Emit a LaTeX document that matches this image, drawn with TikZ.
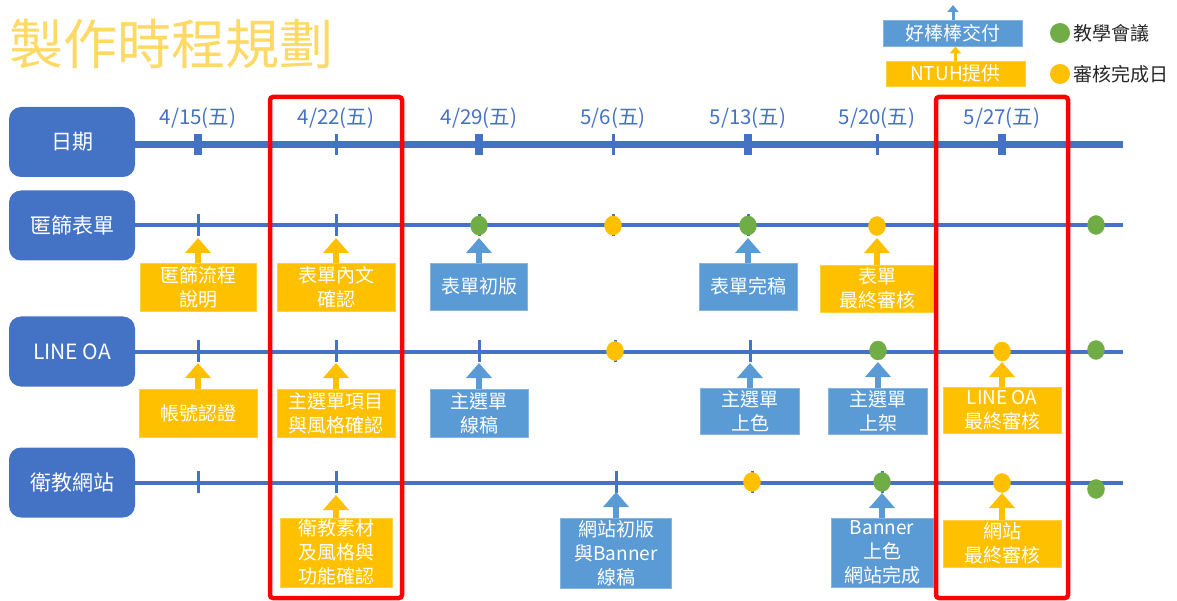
\documentclass[tikz,border=0pt]{standalone}
\usepackage{fontspec}
\setmainfont{Noto Sans CJK TC}
\usetikzlibrary{arrows.meta,positioning,calc}
\definecolor{hdrblue}{HTML}{4472C4}
\definecolor{boxblue}{HTML}{5B9BD5}
\definecolor{boxgold}{HTML}{FFC000}
\definecolor{mtggreen}{HTML}{70AD47}
\definecolor{titlegold}{HTML}{FFD966}

\begin{document}
\begin{tikzpicture}[x=1pt,y=-1pt]
\tikzstyle{every node}=[font=\fontsize{19}{24}\selectfont, inner sep=0pt]
\tikzstyle{header}=[rounded corners=12pt, fill=hdrblue, text=white, minimum width=126pt, minimum height=70pt, font=\fontsize{21}{26}\selectfont]
\tikzstyle{task}=[fill=boxblue, draw=boxblue!75!white, line width=0.8pt, text=white, align=center]
\tikzstyle{review}=[task, fill=boxgold, draw=boxgold!75!white]
\tikzstyle{rowline}=[hdrblue, line width=4pt]
\tikzstyle{tick}=[hdrblue, line width=3pt]
\tikzstyle{uparrow}=[line width=5.5pt, -{Triangle[width=25pt,length=15pt]}]
\tikzstyle{smallup}=[line width=3pt, -{Triangle[width=11pt,length=7pt]}]
\tikzstyle{focus}=[draw=red, line width=4.5pt, rounded corners=3pt, minimum width=132pt, minimum height=501pt]
\tikzstyle{dot}=[circle, minimum size=20pt]

	\useasboundingbox (0,0) rectangle (1177,601);

	\node[anchor=west, text=titlegold, font=\fontsize{54}{60}\selectfont] (title) at (9,44) {製作時程規劃};

	% legend
	\node[task, minimum width=139pt, minimum height=26pt] (lgdeliver) at (953,33) {好棒棒交付};
	\node[review, minimum width=139pt, minimum height=25pt] (lgntuh) at (955.5,73.5) {NTUH提供};
	\coordinate (lgtop) at (953,5);
	\draw[smallup, boxblue] (lgdeliver.north) -- (lgtop);
	\draw[smallup, boxgold] (lgntuh.north) -- (lgntuh.north |- lgdeliver.south);
	\node[dot, fill=mtggreen] (lgmtg) at (1060,33) {};
	\node[dot, fill=boxgold] (lgdone) at (1060,74) {};
	\node[right=3pt of lgmtg, text=black!85] (lgmtgtxt) {教學會議};
	\node[right=3pt of lgdone, text=black!85] (lgdonetxt) {審核完成日};

	% rows
	\node[header] (hdate) at (72,142) {日期};
	\node[header] (hform) at (72,225.5) {匿篩表單};
	\node[header] (hline) at (72,351.5) {LINE OA};
	\node[header] (hsite) at (72,482.5) {衛教網站};

	\coordinate (enddate) at (1123,145);
	\coordinate (endform) at (1123,225.5);
	\coordinate (endline) at (1123,351.5);
	\coordinate (endsite) at (1123,482.5);
	\draw[hdrblue, line width=7pt] ([yshift=-3pt]hdate.east) -- (enddate);
	\draw[rowline] (hform.east) -- (endform);
	\draw[rowline] (hline.east) -- (endline);
	\draw[rowline] (hsite.east) -- (endsite);

	\foreach \dx/\dm/\dd/\dw [count=\i] in {198/4/15/8, 336/4/22/3, 479/4/29/8, 613/5/6/3, 748/5/13/8, 877/5/20/3, 1002/5/27/8} {
		\node[text=hdrblue, font=\fontsize{20.5}{24}\selectfont] (date\i) at (\dx,118.5) {\dm/\dd(五)};
		\fill[hdrblue] (\dx-\dw/2,134.5) rectangle (\dx+\dw/2,155.5);
	}

	\foreach \tx in {198,336,479,613,748}
		\draw[tick] (\tx,214) -- (\tx,236);
	\foreach \tx in {198,336,479,615,750}
		\draw[tick] (\tx,340) -- (\tx,362);
	\foreach \tx in {198,336,616,752,882}
		\draw[tick] (\tx,471) -- (\tx,493);

	\filldraw[mtggreen] (479,225.5) ellipse (8.5pt and 9.5pt);
	\filldraw[boxgold] (613,225.5) ellipse (8.5pt and 9.5pt);
	\filldraw[mtggreen] (748,225.5) ellipse (8.5pt and 9.5pt);
	\filldraw[boxgold] (877,226) ellipse (8.5pt and 9.5pt);
	\filldraw[mtggreen] (1096,225) ellipse (8.5pt and 9.5pt);
	\filldraw[boxgold] (615,351) ellipse (8.5pt and 9.5pt);
	\filldraw[mtggreen] (878,350.5) ellipse (8.5pt and 9.5pt);
	\filldraw[boxgold] (1002,351.5) ellipse (8.5pt and 9.5pt);
	\filldraw[mtggreen] (1096,350) ellipse (8.5pt and 9.5pt);
	\filldraw[boxgold] (752,482) ellipse (8.5pt and 9.5pt);
	\filldraw[mtggreen] (882,482) ellipse (8.5pt and 9.5pt);
	\filldraw[boxgold] (1002,483) ellipse (8.5pt and 9.5pt);
	\filldraw[mtggreen] (1096,489) ellipse (8.5pt and 9.5pt);

	% 匿篩表單
	\node[review, minimum width=116pt, minimum height=48pt] (fa) at (198,287) {匿篩流程\\說明};
	\node[review, minimum width=118pt, minimum height=48pt] (fb) at (336,287) {表單內文\\確認};
	\node[task, minimum width=97pt, minimum height=47pt] (fc) at (479,286.5) {表單初版};
	\node[task, minimum width=98pt, minimum height=47pt] (fd) at (748,286.5) {表單完稿};
	\node[review, minimum width=114pt, minimum height=47pt] (fe) at (877,288.5) {表單\\最終審核};
	\coordinate (fatip) at (198,238);
	\coordinate (fbtip) at (336,238);
	\coordinate (fctip) at (479,238);
	\coordinate (fdtip) at (748,238);
	\coordinate (fetip) at (877,238);
	\draw[uparrow, boxgold] (fa) -- (fatip);
	\draw[uparrow, boxgold] (fb) -- (fbtip);
	\draw[uparrow, boxblue] (fc) -- (fctip);
	\draw[uparrow, boxblue] (fd) -- (fdtip);
	\draw[uparrow, boxgold] (fe) -- (fetip);

	% LINE OA
	\node[review, minimum width=118pt, minimum height=48pt] (la) at (198,413) {帳號認證};
	\node[review, minimum width=118pt, minimum height=48pt] (lb) at (336,413) {主選單項目\\與風格確認};
	\node[task, minimum width=98pt, minimum height=48pt] (lc) at (479,413) {主選單\\線稿};
	\node[task, minimum width=99pt, minimum height=46pt] (ld) at (750,411) {主選單\\上色};
	\node[task, minimum width=99pt, minimum height=46pt] (le) at (878,411) {主選單\\上架};
	\node[review, minimum width=118pt, minimum height=46pt] (lf) at (1002,410) {LINE OA\\最終審核};
	\coordinate (latip) at (198,363);
	\coordinate (lbtip) at (336,363);
	\coordinate (lctip) at (479,363);
	\coordinate (ldtip) at (750,363);
	\coordinate (letip) at (878,362);
	\coordinate (lftip) at (1002,362);
	\draw[uparrow, boxgold] (la) -- (latip);
	\draw[uparrow, boxgold] (lb) -- (lbtip);
	\draw[uparrow, boxblue] (lc) -- (lctip);
	\draw[uparrow, boxblue] (ld) -- (ldtip);
	\draw[uparrow, boxblue] (le) -- (letip);
	\draw[uparrow, boxgold] (lf) -- (lftip);

	% 衛教網站
	\node[review, minimum width=112pt, minimum height=69pt] (sa) at (336,552.5) {衛教素材\\及風格與\\功能確認};
	\node[task, minimum width=111pt, minimum height=70pt] (sb) at (616,553) {網站初版\\與Banner\\線稿};
	\node[task, minimum width=102pt, minimum height=69pt] (sc) at (882,552.5) {Banner\\上色\\網站完成};
	\node[review, minimum width=118pt, minimum height=47pt] (sd) at (1002,543.5) {網站\\最終審核};
	\coordinate (satip) at (336,495);
	\coordinate (sbtip) at (616,492);
	\coordinate (sctip) at (882,493);
	\coordinate (sdtip) at (1002,493);
	\draw[uparrow, boxgold] (sa) -- (satip);
	\draw[uparrow, boxblue] (sb) -- (sbtip);
	\draw[uparrow, boxblue] (sc) -- (sctip);
	\draw[uparrow, boxgold] (sd) -- (sdtip);

	\node[focus] (wkone) at (336,347.5) {};
	\node[focus] (wklast) at (1002,347.5) {};
\end{tikzpicture}
\end{document}
